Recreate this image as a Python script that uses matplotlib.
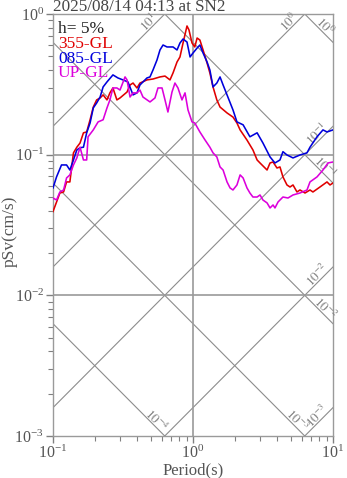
import numpy as np
import matplotlib
matplotlib.use("Agg")
import matplotlib.pyplot as plt
from matplotlib.ticker import LogLocator, LogFormatterSciNotation, NullFormatter

plt.rcParams['font.family'] = ['Liberation Serif', 'DejaVu Serif']
plt.rcParams['mathtext.fontset'] = 'stix'

# Pseudo-velocity response spectra, damping h = 5%
period_355 = [0.100, 0.112, 0.119, 0.125, 0.132, 0.140, 0.148, 0.156, 0.165, 0.174,
              0.184, 0.194, 0.205, 0.217, 0.228, 0.243, 0.255, 0.268, 0.286, 0.301,
              0.338, 0.355, 0.373, 0.398, 0.418, 0.469, 0.518, 0.581, 0.631, 0.685,
              0.720, 0.769, 0.807, 0.849, 0.906, 0.936, 0.984, 1.03, 1.07, 1.12,
              1.18, 1.26, 1.32, 1.39, 1.48, 1.56, 1.75, 1.93, 2.06, 2.17,
              2.43, 2.68, 2.87, 3.01, 3.38, 3.55, 3.73, 3.98, 4.18, 4.39,
              4.69, 4.93, 5.18, 5.53, 5.81, 6.31, 6.85, 7.19, 8.07, 9.06,
              9.52, 10.0]
sv_355 = [0.0394, 0.0534, 0.0543, 0.0640, 0.0640, 0.103, 0.113, 0.121, 0.143, 0.145,
          0.177, 0.218, 0.245, 0.253, 0.266, 0.245, 0.275, 0.298, 0.245, 0.253,
          0.279, 0.313, 0.323, 0.298, 0.323, 0.340, 0.345, 0.357, 0.362, 0.340,
          0.381, 0.456, 0.495, 0.622, 0.822, 0.770, 0.622, 0.583, 0.675, 0.653,
          0.555, 0.449, 0.381, 0.303, 0.245, 0.218, 0.198, 0.185, 0.168, 0.150,
          0.127, 0.108, 0.0917, 0.0873, 0.0778, 0.0873, 0.0887, 0.0804, 0.0818, 0.0695,
          0.0609, 0.0589, 0.0609, 0.0543, 0.0561, 0.0534, 0.0561, 0.0543, 0.0589, 0.0640,
          0.0609, 0.0629]

period_085 = [0.100, 0.106, 0.115, 0.125, 0.132, 0.140, 0.148, 0.156, 0.165, 0.174,
              0.184, 0.194, 0.205, 0.217, 0.228, 0.243, 0.268, 0.291, 0.316, 0.343,
              0.373, 0.398, 0.418, 0.469, 0.493, 0.518, 0.553, 0.581, 0.611, 0.652,
              0.720, 0.769, 0.807, 0.849, 0.906, 0.953, 1.00, 1.07, 1.12, 1.18,
              1.26, 1.32, 1.39, 1.48, 1.56, 1.64, 1.75, 1.93, 2.06, 2.28,
              2.55, 2.87, 3.16, 3.55, 3.85, 4.18, 4.39, 4.69, 5.18, 5.81,
              6.52, 6.85, 7.69, 8.48, 9.06, 10.0]
sv_085 = [0.0580, 0.0695, 0.0845, 0.0845, 0.0778, 0.0917, 0.108, 0.112, 0.113, 0.143,
          0.168, 0.215, 0.233, 0.257, 0.303, 0.329, 0.369, 0.351, 0.340, 0.329,
          0.266, 0.275, 0.313, 0.351, 0.357, 0.400, 0.471, 0.555, 0.602, 0.583,
          0.583, 0.555, 0.622, 0.664, 0.632, 0.495, 0.528, 0.573, 0.602, 0.528,
          0.456, 0.400, 0.303, 0.323, 0.357, 0.313, 0.266, 0.208, 0.171, 0.163,
          0.134, 0.143, 0.121, 0.0964, 0.0873, 0.0917, 0.105, 0.0995, 0.0948, 0.0995,
          0.103, 0.113, 0.134, 0.150, 0.145, 0.150]

period_up = [0.100, 0.106, 0.112, 0.119, 0.125, 0.132, 0.140, 0.148, 0.156, 0.165,
             0.174, 0.178, 0.194, 0.210, 0.228, 0.243, 0.255, 0.268, 0.286, 0.301,
             0.327, 0.338, 0.355, 0.373, 0.398, 0.418, 0.439, 0.493, 0.535, 0.562,
             0.601, 0.631, 0.662, 0.708, 0.743, 0.781, 0.834, 0.877, 0.921, 0.984,
             1.03, 1.12, 1.22, 1.32, 1.39, 1.48, 1.56, 1.64, 1.75, 1.84,
             1.93, 2.06, 2.17, 2.28, 2.43, 2.55, 2.68, 2.87, 3.01, 3.16,
             3.38, 3.55, 3.73, 3.85, 4.05, 4.39, 4.77, 5.18, 5.81, 6.52,
             6.85, 7.69, 8.48, 9.21, 10.0]
sv_up = [0.0492, 0.0476, 0.0543, 0.0561, 0.0683, 0.0718, 0.0845, 0.0948, 0.113, 0.0917,
         0.0917, 0.134, 0.150, 0.171, 0.177, 0.215, 0.245, 0.298, 0.298, 0.288,
         0.357, 0.340, 0.257, 0.275, 0.275, 0.288, 0.257, 0.237, 0.253, 0.298,
         0.298, 0.245, 0.201, 0.279, 0.323, 0.298, 0.245, 0.275, 0.208, 0.171,
         0.168, 0.145, 0.127, 0.113, 0.103, 0.0964, 0.0818, 0.0778, 0.0640, 0.0580,
         0.0561, 0.0609, 0.0718, 0.0683, 0.0580, 0.0534, 0.0500, 0.0500, 0.0517, 0.0476,
         0.0454, 0.0418, 0.0439, 0.0418, 0.0461, 0.0500, 0.0492, 0.0517, 0.0534, 0.0561,
         0.0640, 0.0695, 0.0778, 0.0873, 0.0887]

series = [
    ("355-GL", period_355, sv_355, "#e00000"),
    ("085-GL", period_085, sv_085, "#0000dc"),
    ("UP-GL", period_up, sv_up, "#dc00dc"),
]

# Tripartite guide lines: acceleration (A = 2*pi*Sv/T) and displacement (D = Sv*T/(2*pi))
accel_exponents = [1, 0, -1, -2, -3]
disp_exponents = [0, -1, -2, -3, -4]

T_MIN, T_MAX = 0.1, 10.0
SV_MIN, SV_MAX = 1e-3, 1.0
TEXT = "#444444"
GUIDE = "#8c8c8c"

W, H = 347, 478
fig = plt.figure(figsize=(W / 100, H / 100), dpi=100)
ax = fig.add_axes([53 / W, 42 / H, 280 / W, 422 / H])
ax.set_xscale("log")
ax.set_yscale("log")
ax.set_xlim(T_MIN, T_MAX)
ax.set_ylim(SV_MIN, SV_MAX)

tt = np.logspace(-1.5, 1.5, 200)
l2p = np.log10(2 * np.pi)
for k in accel_exponents:
    ax.plot(tt, 10.0 ** k * tt / (2 * np.pi), color=GUIDE, lw=0.8, zorder=1)
    end = min(1.0, -k + l2p)
    xe, ye = 10 ** end, 10 ** (k + end - l2p)
    ax.annotate(rf"$10^{{{k}}}$", xy=(xe, ye), xytext=(-11.2, -6.1),
                textcoords="offset points", rotation=45, rotation_mode="anchor",
                ha="center", va="center", fontsize=9.5, color="#808080",
                annotation_clip=False)
for k in disp_exponents:
    ax.plot(tt, 10.0 ** k * 2 * np.pi / tt, color=GUIDE, lw=0.8, zorder=1)
    end = min(1.0, k + 3 + l2p)
    xe, ye = 10 ** end, 10 ** (k + l2p - end)
    ax.annotate(rf"$10^{{{k}}}$", xy=(xe, ye), xytext=(-6.1, 11.2),
                textcoords="offset points", rotation=-45, rotation_mode="anchor",
                ha="center", va="center", fontsize=9.5, color="#808080",
                annotation_clip=False)

# Decade grid
ax.axvline(1.0, color="#9a9a9a", lw=1.2, zorder=1)
for v in (0.1, 0.01):
    ax.axhline(v, color="#9a9a9a", lw=1.2, zorder=1)

for name, per, sv, col in series:
    ax.plot(per, sv, color=col, lw=1.15, zorder=3)

# Legend as coloured text
ax.text(0.018, 1 - 19 / 422, "h= 5%", transform=ax.transAxes, color="#222222",
        fontsize=12.5, va="baseline", ha="left")
for i, (name, per, sv, col) in enumerate(series):
    ax.text(0.018, 1 - (34 + 14.7 * i) / 422, name, transform=ax.transAxes,
            color=col, fontsize=12.5, va="baseline", ha="left")

ax.annotate("2025/08/14 04:13 at SN2", xy=(0, 1), xycoords="axes fraction",
            xytext=(0, 2.5), textcoords="offset points", ha="left",
            va="baseline", fontsize=12.3, color=TEXT)

for s in ax.spines.values():
    s.set_color("#9a9a9a")
    s.set_linewidth(1.0)

ax.xaxis.set_major_locator(LogLocator(base=10, numticks=10))
ax.yaxis.set_major_locator(LogLocator(base=10, numticks=10))
ax.xaxis.set_major_formatter(LogFormatterSciNotation())
ax.yaxis.set_major_formatter(LogFormatterSciNotation())
ax.xaxis.set_minor_formatter(NullFormatter())
ax.yaxis.set_minor_formatter(NullFormatter())
ax.tick_params(which="both", direction="out", colors="#808080",
               labelcolor="#555555", labelsize=11.5)
ax.tick_params(which="major", length=5, width=1.0, pad=1.5)
ax.tick_params(which="minor", length=3.5, width=0.8)

# Axis titles at fixed figure positions
fig.text(193 / W, 1 - 470 / H, "Period(s)", fontsize=12, color="#555555",
         ha="center", va="center")
fig.text(10 / W, 1 - 231 / H, "pSv(cm/s)", fontsize=12.5, color="#555555",
         ha="center", va="center", rotation=90)

fig.savefig("out.png", dpi=100)
